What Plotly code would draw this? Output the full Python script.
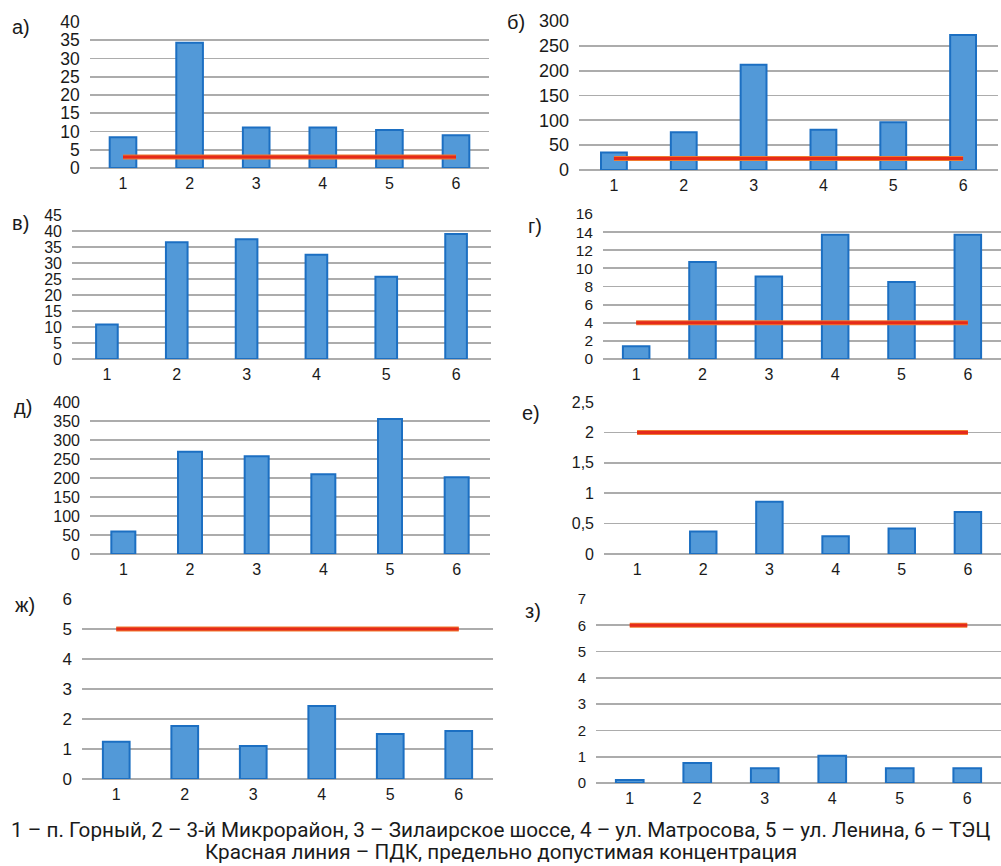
import plotly.graph_objects as go

W, H = 1001, 866

categories = [1, 2, 3, 4, 5, 6]

# panel values (None = no bar shown)
vals_a = [8.4, 34.3, 11.1, 11.1, 10.4, 9.0]
vals_b = [35, 76, 212, 81, 96, 272]
vals_v = [10.8, 36.5, 37.4, 32.6, 25.7, 39.1]
vals_g = [1.4, 10.7, 9.1, 13.7, 8.5, 13.7]
vals_d = [59, 269, 257, 210, 355, 202]
vals_e = [None, 0.37, 0.86, 0.29, 0.42, 0.69]
vals_zh = [1.24, 1.77, 1.1, 2.43, 1.5, 1.6]
vals_z = [0.11, 0.76, 0.56, 1.04, 0.56, 0.56]

# ПДК (red line)
pdk_a = 3
pdk_b = 23
pdk_g = 4
pdk_e = 2
pdk_zh = 5
pdk_z = 6

# y tick values / labels
ticks_a = [0, 5, 10, 15, 20, 25, 30, 35, 40]
ticks_b = [0, 50, 100, 150, 200, 250, 300]
ticks_v = [0, 5, 10, 15, 20, 25, 30, 35, 40, 45]
ticks_g = [0, 2, 4, 6, 8, 10, 12, 14, 16]
ticks_d = [0, 50, 100, 150, 200, 250, 300, 350, 400]
ticks_e = [0, 0.5, 1, 1.5, 2, 2.5]
ticktext_e = ["0", "0,5", "1", "1,5", "2", "2,5"]
ticks_zh = [0, 1, 2, 3, 4, 5, 6]
ticks_z = [0, 1, 2, 3, 4, 5, 6, 7]

panel_labels = ["а)", "б)", "в)", "г)", "д)", "е)", "ж)", "з)"]
caption_1 = "1 – п. Горный, 2 – 3-й Микрорайон, 3 – Зилаирское шоссе, 4 – ул. Матросова, 5 – ул. Ленина, 6 – ТЭЦ"
caption_2 = "Красная линия – ПДК, предельно допустимая концентрация"

panels = [
    dict(vals=vals_a, pdk=pdk_a, ticks=ticks_a, text=None, dx=(89.7, 489.3), dy=(22, 168), bw=0.40, lab=(21, 27), fs=17.5),
    dict(vals=vals_b, pdk=pdk_b, ticks=ticks_b, text=None, dx=(579, 998), dy=(21, 170), bw=0.37, lab=(516, 22), fs=18),
    dict(vals=vals_v, pdk=None, ticks=ticks_v, text=None, dx=(72, 491), dy=(215, 359), bw=0.31, lab=(20, 223), fs=16),
    dict(vals=vals_g, pdk=pdk_g, ticks=ticks_g, text=None, dx=(603, 1001), dy=(214, 359), bw=0.40, lab=(535, 226), fs=15.5),
    dict(vals=vals_d, pdk=None, ticks=ticks_d, text=None, dx=(90, 490), dy=(402, 554), bw=0.36, lab=(23, 407), fs=16),
    dict(vals=vals_e, pdk=pdk_e, ticks=ticks_e, text=ticktext_e, dx=(604, 1001), dy=(402, 554), bw=0.40, lab=(531, 413), fs=16),
    dict(vals=vals_zh, pdk=pdk_zh, ticks=ticks_zh, text=None, dx=(82, 493), dy=(599, 779), bw=0.39, lab=(25, 605), fs=17),
    dict(vals=vals_z, pdk=pdk_z, ticks=ticks_z, text=None, dx=(596, 1001), dy=(599, 783), bw=0.41, lab=(533, 611), fs=15),
]

BAR_FILL = "#5299d8"
BAR_LINE = "#1c6fc2"
RED = "#e52a1a"
GRID = "#acacac"
TXT = "#1a1a1a"

fig = go.Figure()
layout = dict(
    width=W, height=H,
    margin=dict(l=0, r=0, t=0, b=0, autoexpand=False),
    paper_bgcolor="white", plot_bgcolor="white",
    showlegend=False,
    font=dict(family="Liberation Sans, Arial, sans-serif", color=TXT),
)
annotations = []

for i, p in enumerate(panels):
    n = "" if i == 0 else str(i + 1)
    xa, ya = "x" + n, "y" + n
    fig.add_trace(go.Bar(
        x=categories, y=p["vals"], width=p["bw"],
        marker=dict(color=BAR_FILL, line=dict(color=BAR_LINE, width=2)),
        xaxis=xa, yaxis=ya, hoverinfo="skip",
    ))
    if p["pdk"] is not None:
        fig.add_trace(go.Scatter(
            x=[categories[0], categories[-1]], y=[p["pdk"], p["pdk"]],
            mode="lines", line=dict(color="#f07a30", width=5),
            xaxis=xa, yaxis=ya, hoverinfo="skip",
        ))
        fig.add_trace(go.Scatter(
            x=[categories[0], categories[-1]], y=[p["pdk"], p["pdk"]],
            mode="lines", line=dict(color=RED, width=3),
            xaxis=xa, yaxis=ya, hoverinfo="skip",
        ))
    ymax = p["ticks"][-1]
    layout["xaxis" + n] = dict(
        domain=[p["dx"][0] / W, min(p["dx"][1] / W, 1.0)],
        range=[0.5, 6.5], anchor=ya, automargin=False,
        tickvals=categories, ticktext=[str(c) for c in categories],
        showgrid=False, zeroline=False, showline=False,
        ticks="", ticklabelstandoff=4,
        tickfont=dict(size=16, color=TXT),
    )
    layout["yaxis" + n] = dict(
        domain=[1 - p["dy"][1] / H, 1 - p["dy"][0] / H],
        range=[0, ymax], anchor=xa, automargin=False,
        tickvals=p["ticks"],
        ticktext=p["text"] if p["text"] else [str(t) for t in p["ticks"]],
        showgrid=True, gridcolor=GRID, gridwidth=1.8,
        zeroline=True, zerolinecolor=GRID, zerolinewidth=1.8,
        showline=False, ticks="", ticklabelstandoff=9,
        tickfont=dict(size=p["fs"], color=TXT),
    )
    annotations.append(dict(
        text=panel_labels[i], xref="paper", yref="paper",
        x=p["lab"][0] / W, y=1 - p["lab"][1] / H,
        xanchor="center", yanchor="middle", showarrow=False,
        font=dict(size=20, color=TXT, family="Liberation Sans, Arial, sans-serif"),
    ))

for txt, yy in [(caption_1, 830), (caption_2, 852)]:
    annotations.append(dict(
        text=txt, xref="paper", yref="paper", x=0.5, y=1 - yy / H,
        xanchor="center", yanchor="middle", showarrow=False,
        font=dict(size=20.7, color=TXT, family="Roboto, sans-serif"),
    ))

layout["annotations"] = annotations
fig.update_layout(**layout)
fig.write_html(
    "out.html",
    config={"displayModeBar": False, "staticPlot": True},
    post_script="document.body.style.margin='0';document.body.style.overflow='hidden';",
)
